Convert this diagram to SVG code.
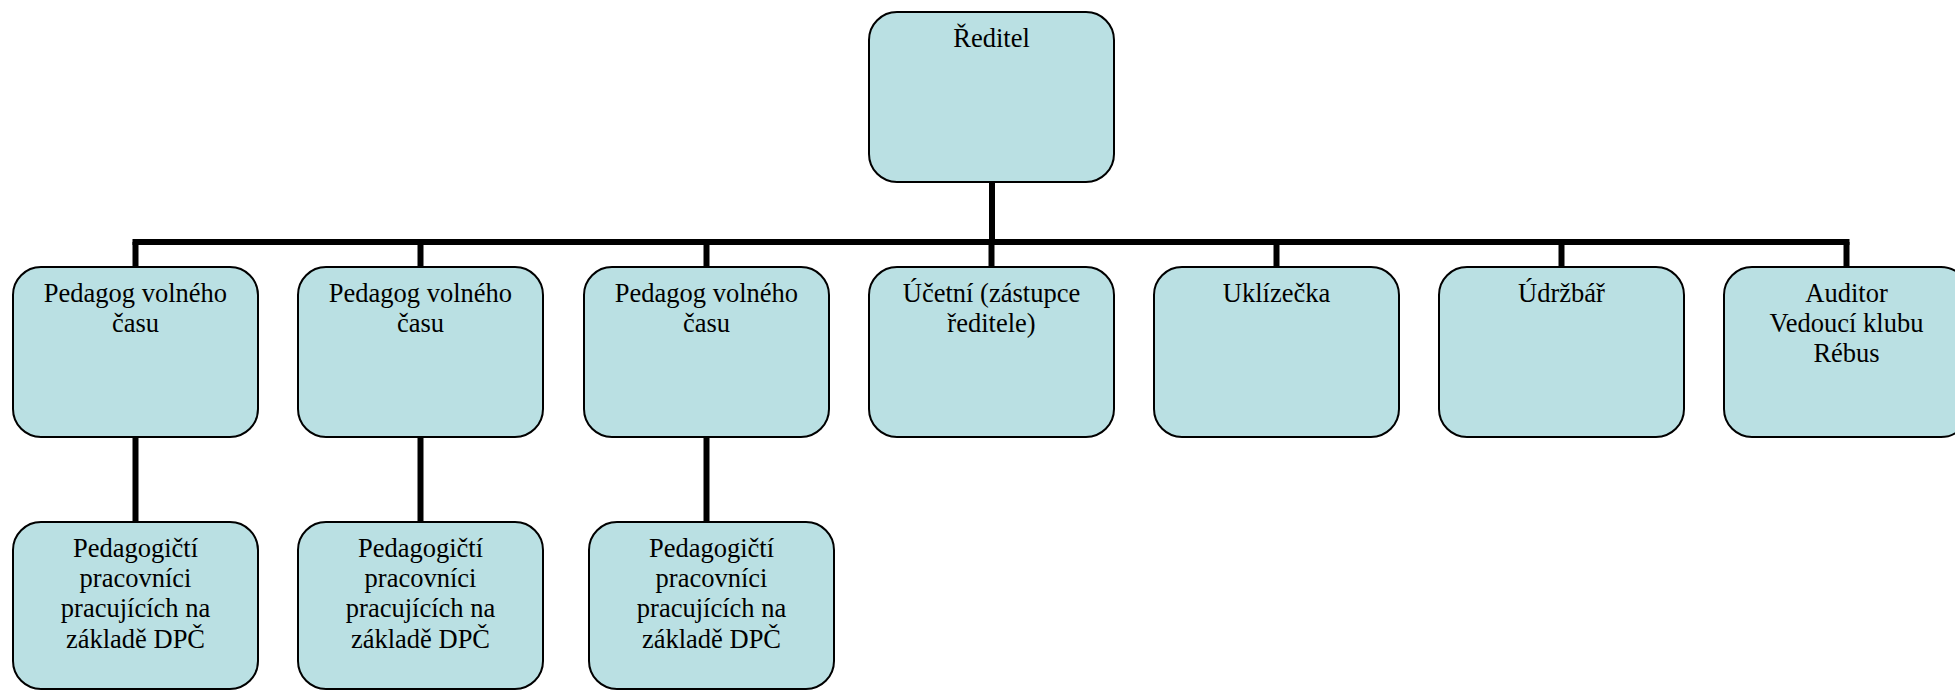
<svg xmlns="http://www.w3.org/2000/svg" width="1955" height="691" viewBox="0 0 1955 691">
<style>
.box{fill:#bae0e3;stroke:#000;stroke-width:2}
.t{font-family:"Liberation Serif","Times New Roman",serif;font-size:26.5px;fill:#000;text-anchor:middle}
.c{stroke:#000;stroke-width:6;fill:none}
</style>
<rect width="1955" height="691" fill="#fff"/>
<g id="connectors">
<line class="c" x1="992" y1="182" x2="992" y2="245"/>
<line class="c" x1="132.5" y1="242" x2="1849.5" y2="242"/>
<line class="c" x1="135.5" y1="242" x2="135.5" y2="267"/>
<line class="c" x1="420.5" y1="242" x2="420.5" y2="267"/>
<line class="c" x1="706.5" y1="242" x2="706.5" y2="267"/>
<line class="c" x1="991.5" y1="242" x2="991.5" y2="267"/>
<line class="c" x1="1276.5" y1="242" x2="1276.5" y2="267"/>
<line class="c" x1="1561.5" y1="242" x2="1561.5" y2="267"/>
<line class="c" x1="1846.5" y1="242" x2="1846.5" y2="267"/>
<line class="c" x1="135.5" y1="437" x2="135.5" y2="522"/>
<line class="c" x1="420.5" y1="437" x2="420.5" y2="522"/>
<line class="c" x1="706.5" y1="437" x2="706.5" y2="522"/>
</g>
<g id="reditel">
<rect class="box" x="869" y="12" width="245" height="170" rx="28"/>
<text class="t" x="991.5" y="47">Ředitel</text>
</g>
<g id="pedagog1">
<rect class="box" x="13" y="267" width="245" height="170" rx="28"/>
<text class="t" x="135.5" y="302">Pedagog volného</text>
<text class="t" x="135.5" y="332">času</text>
</g>
<g id="pedagog2">
<rect class="box" x="298" y="267" width="245" height="170" rx="28"/>
<text class="t" x="420.5" y="302">Pedagog volného</text>
<text class="t" x="420.5" y="332">času</text>
</g>
<g id="pedagog3">
<rect class="box" x="584" y="267" width="245" height="170" rx="28"/>
<text class="t" x="706.5" y="302">Pedagog volného</text>
<text class="t" x="706.5" y="332">času</text>
</g>
<g id="ucetni">
<rect class="box" x="869" y="267" width="245" height="170" rx="28"/>
<text class="t" x="991.5" y="302">Účetní (zástupce</text>
<text class="t" x="991.5" y="332">ředitele)</text>
</g>
<g id="uklizecka">
<rect class="box" x="1154" y="267" width="245" height="170" rx="28"/>
<text class="t" x="1276.5" y="302">Uklízečka</text>
</g>
<g id="udrzbar">
<rect class="box" x="1439" y="267" width="245" height="170" rx="28"/>
<text class="t" x="1561.5" y="302">Údržbář</text>
</g>
<g id="auditor">
<rect class="box" x="1724" y="267" width="245" height="170" rx="28"/>
<text class="t" x="1846.5" y="302">Auditor</text>
<text class="t" x="1846.5" y="332">Vedoucí klubu</text>
<text class="t" x="1846.5" y="362">Rébus</text>
</g>
<g id="dpc1">
<rect class="box" x="13" y="522" width="245" height="167" rx="28"/>
<text class="t" x="135.5" y="557">Pedagogičtí</text>
<text class="t" x="135.5" y="587">pracovníci</text>
<text class="t" x="135.5" y="617">pracujících na</text>
<text class="t" x="135.5" y="648">základě DPČ</text>
</g>
<g id="dpc2">
<rect class="box" x="298" y="522" width="245" height="167" rx="28"/>
<text class="t" x="420.5" y="557">Pedagogičtí</text>
<text class="t" x="420.5" y="587">pracovníci</text>
<text class="t" x="420.5" y="617">pracujících na</text>
<text class="t" x="420.5" y="648">základě DPČ</text>
</g>
<g id="dpc3">
<rect class="box" x="589" y="522" width="245" height="167" rx="28"/>
<text class="t" x="711.5" y="557">Pedagogičtí</text>
<text class="t" x="711.5" y="587">pracovníci</text>
<text class="t" x="711.5" y="617">pracujících na</text>
<text class="t" x="711.5" y="648">základě DPČ</text>
</g>
</svg>
